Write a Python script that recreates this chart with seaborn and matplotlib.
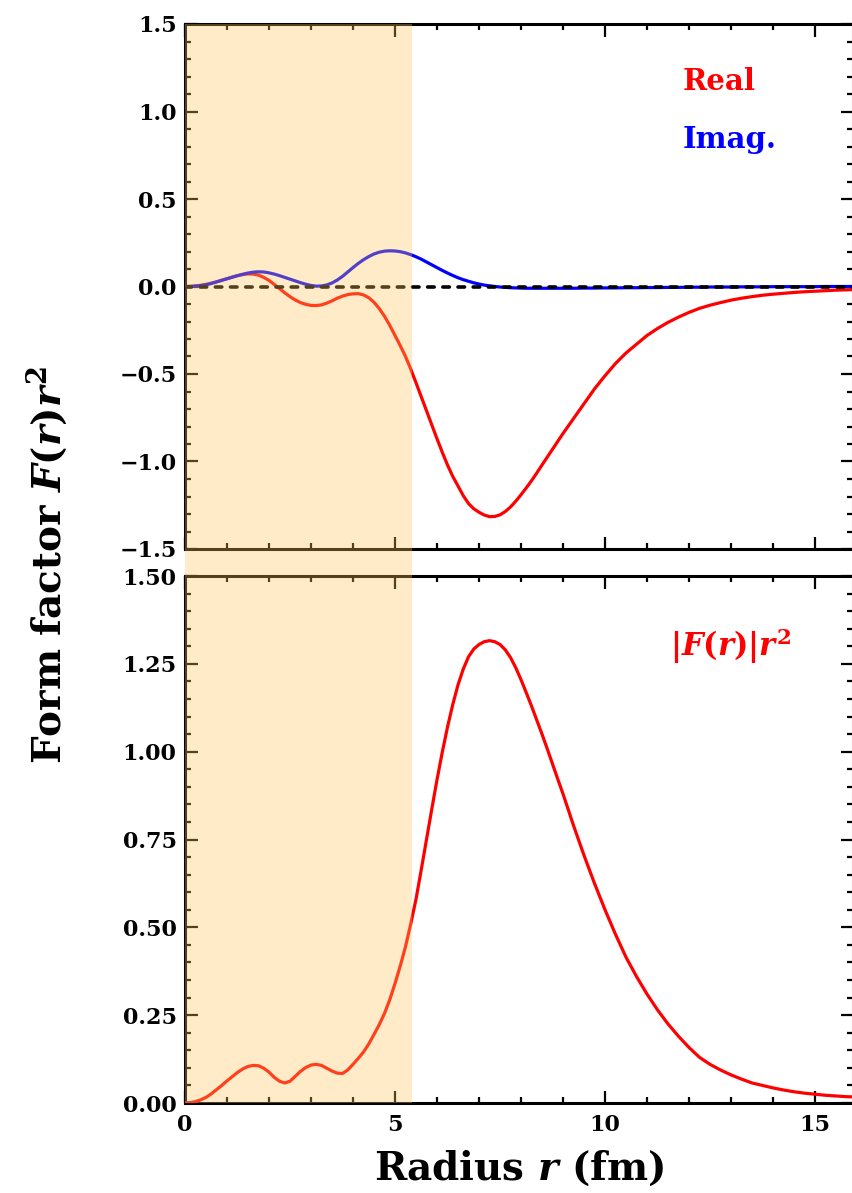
import numpy as np
import matplotlib
matplotlib.use("Agg")
import matplotlib.pyplot as plt
import matplotlib.ticker as mticker
import matplotlib.transforms as mtransforms
from matplotlib.patches import Rectangle
import seaborn as sns

# --- data ---
# finer spacing where the curves bend, coarser in the tail
r = np.concatenate([np.arange(0, 9.0625, 0.125), np.arange(9.25, 16.25, 0.25)])

# real part of F(r) r^2
re_part = [0.000, 0.001, 0.003, 0.007, 0.012, 0.019, 0.027, 0.036, 0.045, 0.054,
           0.062, 0.068, 0.072, 0.071, 0.065, 0.052, 0.035, 0.012, -0.012, -0.036,
           -0.058, -0.077, -0.092, -0.102, -0.108, -0.109, -0.105, -0.095, -0.082, -0.067,
           -0.055, -0.046, -0.042, -0.041, -0.048, -0.064, -0.090, -0.126, -0.170, -0.222,
           -0.280, -0.338, -0.400, -0.472, -0.550, -0.630, -0.710, -0.790, -0.870, -0.947,
           -1.020, -1.085, -1.140, -1.195, -1.240, -1.270, -1.290, -1.306, -1.315, -1.314,
           -1.305, -1.286, -1.260, -1.227, -1.190, -1.151, -1.110, -1.066, -1.020, -0.975,
           -0.930, -0.885, -0.840,
           -0.755, -0.670, -0.585, -0.510, -0.440, -0.380, -0.330, -0.280, -0.240, -0.205,
           -0.175, -0.148, -0.125, -0.107, -0.092, -0.078, -0.067, -0.058, -0.050, -0.044,
           -0.039, -0.034, -0.030, -0.027, -0.024, -0.021, -0.019, -0.017]

# imaginary part of F(r) r^2
im_part = [0.000, 0.000, 0.002, 0.005, 0.010, 0.017, 0.026, 0.035, 0.044, 0.053,
           0.062, 0.070, 0.077, 0.082, 0.084, 0.083, 0.078, 0.071, 0.062, 0.052,
           0.042, 0.032, 0.022, 0.013, 0.006, 0.002, 0.003, 0.009, 0.020, 0.037,
           0.058, 0.083, 0.108, 0.132, 0.153, 0.171, 0.186, 0.196, 0.202, 0.204,
           0.203, 0.199, 0.192, 0.182, 0.170, 0.156, 0.140, 0.124, 0.108, 0.092,
           0.077, 0.063, 0.050, 0.039, 0.030, 0.021, 0.014, 0.008, 0.004, 0.000,
           -0.003, -0.005, -0.007, -0.008, -0.009, -0.010, -0.010, -0.010, -0.010, -0.010,
           -0.010, -0.010, -0.010,
           -0.010, -0.009, -0.009, -0.008, -0.008, -0.007, -0.007, -0.006, -0.006, -0.005,
           -0.005, -0.004, -0.004, -0.003, -0.003, -0.003, -0.002, -0.002, -0.002, -0.001,
           -0.001, -0.001, -0.001, -0.001, 0.000, 0.000, 0.000, 0.000]

# |F(r)| r^2
abs_part = [0.000, 0.001, 0.004, 0.009, 0.016, 0.026, 0.038, 0.050, 0.063, 0.075,
            0.087, 0.097, 0.104, 0.107, 0.106, 0.099, 0.088, 0.073, 0.062, 0.057,
            0.062, 0.076, 0.090, 0.101, 0.108, 0.110, 0.107, 0.099, 0.091, 0.085,
            0.084, 0.094, 0.110, 0.127, 0.145, 0.168, 0.195, 0.223, 0.255, 0.294,
            0.340, 0.390, 0.445, 0.510, 0.580, 0.664, 0.750, 0.836, 0.920, 0.998,
            1.070, 1.134, 1.190, 1.235, 1.270, 1.292, 1.305, 1.313, 1.316, 1.313,
            1.305, 1.290, 1.268, 1.239, 1.205, 1.168, 1.130, 1.090, 1.050, 1.008,
            0.965, 0.922, 0.880,
            0.790, 0.705, 0.625, 0.550, 0.480, 0.415, 0.360, 0.310, 0.265, 0.225,
            0.190, 0.158, 0.130, 0.110, 0.094, 0.080, 0.068, 0.057, 0.050, 0.043,
            0.037, 0.032, 0.028, 0.025, 0.022, 0.020, 0.018, 0.017]

shade_end = 5.4

# --- style ---
sns.set_theme(style="ticks")
plt.rcParams["font.family"] = ["DejaVu Serif"]
plt.rcParams["font.weight"] = "bold"
plt.rcParams["text.color"] = "black"
plt.rcParams["axes.labelcolor"] = "black"
plt.rcParams["xtick.color"] = "black"
plt.rcParams["ytick.color"] = "black"
plt.rcParams["mathtext.fontset"] = "custom"
plt.rcParams["mathtext.it"] = "DejaVu Serif:italic:bold"
plt.rcParams["mathtext.rm"] = "DejaVu Serif:bold"
plt.rcParams["mathtext.bf"] = "DejaVu Serif:bold"

W, H = 853, 1193
fig = plt.figure(figsize=(W / 100, H / 100), dpi=100)

left = 185 / W
right = 1.0
ax1 = fig.add_axes([left, 1 - 549 / H, right - left, (549 - 24) / H])
ax2 = fig.add_axes([left, 1 - 1103 / H, right - left, (1103 - 576) / H])

xmax = (W - 185) / 42.0
LW = 2.3

sns.lineplot(x=r, y=re_part, ax=ax1, color="#ff0000", lw=LW, zorder=3,
             solid_joinstyle="round")
sns.lineplot(x=r, y=im_part, ax=ax1, color="#0000ff", lw=LW, zorder=3,
             solid_joinstyle="round")
ax1.axhline(0, color="black", lw=2.6, ls=(0, (1.8, 2.4)), dash_capstyle="round", zorder=4)

sns.lineplot(x=r, y=abs_part, ax=ax2, color="#ff0000", lw=LW, zorder=3,
             solid_joinstyle="round")


def minus_fmt(fmt):
    return mticker.FuncFormatter(lambda v, p: (fmt % v).replace("-", "\u2212"))


for ax in (ax1, ax2):
    ax.set_xlim(0, xmax)
    ax.xaxis.set_major_locator(mticker.MultipleLocator(5))
    ax.xaxis.set_minor_locator(mticker.MultipleLocator(1))
    ax.tick_params(which="both", direction="in", top=True, right=True,
                   width=1.6, color="black", labelcolor="black", labelsize=16, pad=6)
    ax.tick_params(which="major", length=9)
    ax.tick_params(which="minor", length=4.5)
    for s in ax.spines.values():
        s.set_linewidth(2.2)
        s.set_color("black")
    ax.set_xlabel("")
    ax.set_ylabel("")

ax1.set_ylim(-1.5, 1.5)
ax1.yaxis.set_major_locator(mticker.MultipleLocator(0.5))
ax1.yaxis.set_minor_locator(mticker.MultipleLocator(0.1))
ax1.yaxis.set_major_formatter(minus_fmt("%.1f"))
ax1.tick_params(labelbottom=False)

ax2.set_ylim(0, 1.5)
ax2.yaxis.set_major_locator(mticker.MultipleLocator(0.25))
ax2.yaxis.set_minor_locator(mticker.MultipleLocator(0.05))
ax2.yaxis.set_major_formatter(minus_fmt("%.2f"))
ax2.xaxis.set_major_formatter(mticker.FormatStrFormatter("%d"))
ax2.tick_params(axis="x", pad=8)

for ax in (ax1, ax2):
    for lab in ax.get_xticklabels() + ax.get_yticklabels():
        lab.set_fontweight("bold")

# in-panel labels
ax1.text(11.86, 1.17, "Real", color="#ff0000", fontsize=21, fontweight="bold",
         ha="left", va="center")
ax1.text(11.86, 0.84, "Imag.", color="#0000ff", fontsize=21, fontweight="bold",
         ha="left", va="center")
ax2.text(11.55, 1.30, r"$|F(r)|r^2$", color="#ff0000", fontsize=22,
         ha="left", va="center")

# shaded band over both panels and the gap
trans = mtransforms.blended_transform_factory(ax1.transData, fig.transFigure)
y0 = 1 - 1103 / H
y1 = 1 - 24 / H
fig.add_artist(Rectangle((0, y0), shade_end, y1 - y0, transform=trans,
                         facecolor="#ffc558", edgecolor="none", alpha=0.33, zorder=10))

fig.text(47 / W, 1 - 565 / H, r"Form factor $F(r)r^2$", rotation=90,
         ha="center", va="center", fontsize=28, fontweight="bold")
fig.text(519 / W, 1 - 1168 / H, r"Radius $r$ (fm)", ha="center", va="center",
         fontsize=28, fontweight="bold")

fig.savefig("out.png", dpi=100)
